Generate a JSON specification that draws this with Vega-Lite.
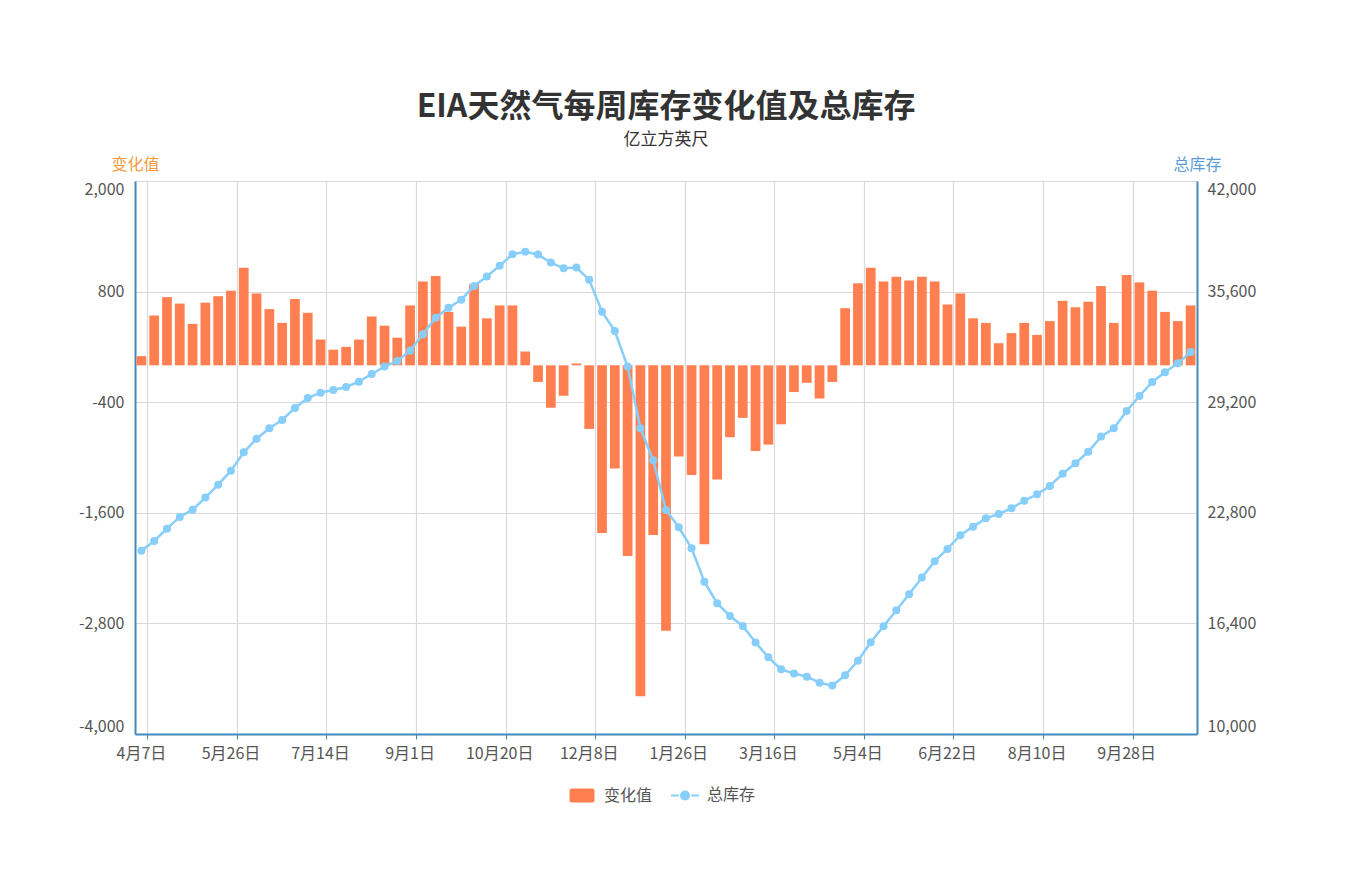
{
  "$schema": "https://vega.github.io/schema/vega-lite/v6.json",
  "width": 1062,
  "height": 553,
  "autosize": {"type": "none"},
  "padding": {"left": 135, "top": 181, "right": 161, "bottom": 145},
  "background": "white",
  "config": {
    "font": "Noto Sans CJK SC",
    "view": {"stroke": null}
  },
  "title": {
    "text": "EIA天然气每周库存变化值及总库存",
    "subtitle": "亿立方英尺",
    "anchor": "middle",
    "frame": "group",
    "font": "Noto Sans CJK SC",
    "fontSize": 32,
    "fontWeight": "bold",
    "color": "#333333",
    "subtitleFont": "Noto Sans CJK SC",
    "subtitleFontSize": 17,
    "subtitleColor": "#333333",
    "subtitlePadding": 8,
    "offset": 7
  },
  "data": {
    "values": [
      {"week": "4月7日", "change": 100, "total": 20610},
      {"week": "4月14日", "change": 540, "total": 21170},
      {"week": "4月21日", "change": 740, "total": 21880},
      {"week": "4月28日", "change": 670, "total": 22560},
      {"week": "5月5日", "change": 450, "total": 22980},
      {"week": "5月12日", "change": 680, "total": 23680},
      {"week": "5月19日", "change": 750, "total": 24430},
      {"week": "5月26日", "change": 810, "total": 25240},
      {"week": "6月2日", "change": 1060, "total": 26300},
      {"week": "6月9日", "change": 780, "total": 27090},
      {"week": "6月16日", "change": 610, "total": 27690},
      {"week": "6月23日", "change": 460, "total": 28170},
      {"week": "6月30日", "change": 720, "total": 28870},
      {"week": "7月7日", "change": 570, "total": 29440},
      {"week": "7月14日", "change": 280, "total": 29750},
      {"week": "7月21日", "change": 170, "total": 29910},
      {"week": "7月28日", "change": 200, "total": 30080},
      {"week": "8月4日", "change": 280, "total": 30390},
      {"week": "8月11日", "change": 530, "total": 30830},
      {"week": "8月18日", "change": 430, "total": 31260},
      {"week": "8月25日", "change": 300, "total": 31590},
      {"week": "9月1日", "change": 650, "total": 32180},
      {"week": "9月8日", "change": 910, "total": 33130},
      {"week": "9月15日", "change": 970, "total": 34090},
      {"week": "9月22日", "change": 580, "total": 34670},
      {"week": "9月29日", "change": 420, "total": 35130},
      {"week": "10月6日", "change": 880, "total": 35930},
      {"week": "10月13日", "change": 510, "total": 36470},
      {"week": "10月20日", "change": 650, "total": 37100},
      {"week": "10月27日", "change": 650, "total": 37760},
      {"week": "11月3日", "change": 150, "total": 37910},
      {"week": "11月10日", "change": -180, "total": 37740},
      {"week": "11月17日", "change": -460, "total": 37280},
      {"week": "11月24日", "change": -330, "total": 36950},
      {"week": "12月1日", "change": 20, "total": 36990},
      {"week": "12月8日", "change": -690, "total": 36280},
      {"week": "12月15日", "change": -1820, "total": 34440},
      {"week": "12月22日", "change": -1120, "total": 33320},
      {"week": "12月29日", "change": -2070, "total": 31260},
      {"week": "1月5日", "change": -3590, "total": 27690},
      {"week": "1月12日", "change": -1840, "total": 25840},
      {"week": "1月19日", "change": -2880, "total": 22960},
      {"week": "1月26日", "change": -990, "total": 21960},
      {"week": "2月2日", "change": -1190, "total": 20750},
      {"week": "2月9日", "change": -1940, "total": 18810},
      {"week": "2月16日", "change": -1240, "total": 17560},
      {"week": "2月23日", "change": -780, "total": 16830},
      {"week": "3月2日", "change": -570, "total": 16250},
      {"week": "3月9日", "change": -930, "total": 15290},
      {"week": "3月16日", "change": -860, "total": 14440},
      {"week": "3月23日", "change": -640, "total": 13740},
      {"week": "3月30日", "change": -290, "total": 13500},
      {"week": "4月6日", "change": -190, "total": 13320},
      {"week": "4月13日", "change": -360, "total": 12970},
      {"week": "4月20日", "change": -180, "total": 12800},
      {"week": "4月27日", "change": 620, "total": 13400},
      {"week": "5月4日", "change": 890, "total": 14240},
      {"week": "5月11日", "change": 1060, "total": 15310},
      {"week": "5月18日", "change": 910, "total": 16230},
      {"week": "5月25日", "change": 960, "total": 17160},
      {"week": "6月1日", "change": 920, "total": 18090},
      {"week": "6月8日", "change": 960, "total": 19050},
      {"week": "6月15日", "change": 910, "total": 20000},
      {"week": "6月22日", "change": 660, "total": 20710},
      {"week": "6月29日", "change": 780, "total": 21500},
      {"week": "7月6日", "change": 510, "total": 22000},
      {"week": "7月13日", "change": 460, "total": 22480},
      {"week": "7月20日", "change": 240, "total": 22730},
      {"week": "7月27日", "change": 350, "total": 23060},
      {"week": "8月3日", "change": 460, "total": 23500},
      {"week": "8月10日", "change": 330, "total": 23870},
      {"week": "8月17日", "change": 480, "total": 24350},
      {"week": "8月24日", "change": 700, "total": 25060},
      {"week": "8月31日", "change": 630, "total": 25670},
      {"week": "9月7日", "change": 690, "total": 26330},
      {"week": "9月14日", "change": 860, "total": 27210},
      {"week": "9月21日", "change": 460, "total": 27690},
      {"week": "9月28日", "change": 980, "total": 28690},
      {"week": "10月5日", "change": 900, "total": 29560},
      {"week": "10月12日", "change": 810, "total": 30370},
      {"week": "10月19日", "change": 580, "total": 30930},
      {"week": "10月26日", "change": 480, "total": 31450},
      {"week": "11月2日", "change": 650, "total": 32110}
    ]
  },
  "encoding": {
    "x": {
      "field": "week",
      "type": "ordinal",
      "sort": null,
      "scale": {"paddingInner": 0.24, "paddingOuter": 0.12},
      "axis": {
        "title": null,
        "values": ["4月7日", "5月26日", "7月14日", "9月1日", "10月20日", "12月8日", "1月26日", "3月16日", "5月4日", "6月22日", "8月10日", "9月28日"],
        "bandPosition": 1.158,
        "labelAngle": 0,
        "labelFontSize": 16,
        "labelColor": "#555555",
        "labelPadding": 6,
        "tickSize": 5,
        "tickColor": "#4488bb",
        "domainColor": "#4488bb",
        "domainWidth": 2,
        "grid": true,
        "gridColor": "#d9d9d9",
        "gridWidth": 1.2
      }
    }
  },
  "layer": [
    {
      "mark": {"type": "bar"},
      "encoding": {
        "y": {
          "field": "change",
          "type": "quantitative",
          "scale": {"domain": [-4000, 2000], "nice": false},
          "axis": {
            "orient": "left",
            "values": [-4000, -2800, -1600, -400, 800, 2000],
            "format": ",d",
            "labelExpr": "replace(datum.label, '\u2212', '-')",
            "labelFlush": true,
            "labelFontSize": 16,
            "labelColor": "#555555",
            "labelPadding": 11,
            "ticks": false,
            "domainColor": "#4488bb",
            "domainWidth": 2,
            "grid": true,
            "gridColor": "#d9d9d9",
            "gridWidth": 1.2,
            "title": "变化值",
            "titleAngle": 0,
            "titleX": 0,
            "titleY": -12,
            "titleAlign": "center",
            "titleBaseline": "alphabetic",
            "titleColor": "#f39a3e",
            "titleFontSize": 16,
            "titleFontWeight": "normal"
          }
        },
        "color": {
          "datum": "变化值",
          "type": "nominal",
          "scale": {"domain": ["变化值", "总库存"], "range": ["#ff7f50", "#87cefa"]},
          "legend": {
            "title": null,
            "orient": "none",
            "legendX": 439,
            "legendY": 606,
            "direction": "horizontal",
            "padding": 0,
            "columnPadding": 14,
            "labelOffset": 14,
            "labelFontSize": 16,
            "labelColor": "#555555",
            "symbolSize": 784,
            "symbolOpacity": 1,
            "encode": {
              "symbols": {
                "update": {
                  "shape": {"signal": "datum.value === '变化值' ? 'M-0.75,-0.5H0.75A0.14,0.14,0,0,1,0.89,-0.36V0.36A0.14,0.14,0,0,1,0.75,0.5H-0.75A0.14,0.14,0,0,1,-0.89,0.36V-0.36A0.14,0.14,0,0,1,-0.75,-0.5Z' : 'M-1,0H-0.45M0.45,0H1M-0.29,0A0.29,0.29,0,1,1,0.29,0A0.29,0.29,0,1,1,-0.29,0Z'"},
                  "fill": {"scale": "color", "field": "value"},
                  "stroke": {"scale": "color", "field": "value"},
                  "strokeWidth": {"signal": "datum.value === '变化值' ? 0 : 2"}
                }
              }
            }
          }
        }
      }
    },
    {
      "mark": {"type": "line", "strokeWidth": 2.5, "point": {"filled": true, "size": 64}},
      "encoding": {
        "y": {
          "field": "total",
          "type": "quantitative",
          "scale": {"domain": [10000, 42000], "nice": false, "zero": false},
          "axis": {
            "orient": "right",
            "values": [10000, 16400, 22800, 29200, 35600, 42000],
            "format": ",d",
            "labelFlush": true,
            "labelFontSize": 16,
            "labelColor": "#555555",
            "labelPadding": 10,
            "ticks": false,
            "domainColor": "#4488bb",
            "domainWidth": 2,
            "grid": false,
            "title": "总库存",
            "titleAngle": 0,
            "titleX": 0,
            "titleY": -12,
            "titleAlign": "center",
            "titleBaseline": "alphabetic",
            "titleColor": "#5b9bd5",
            "titleFontSize": 16,
            "titleFontWeight": "normal"
          }
        },
        "color": {
          "datum": "总库存",
          "type": "nominal"
        }
      }
    }
  ],
  "resolve": {"scale": {"y": "independent"}, "axis": {"y": "independent"}}
}
